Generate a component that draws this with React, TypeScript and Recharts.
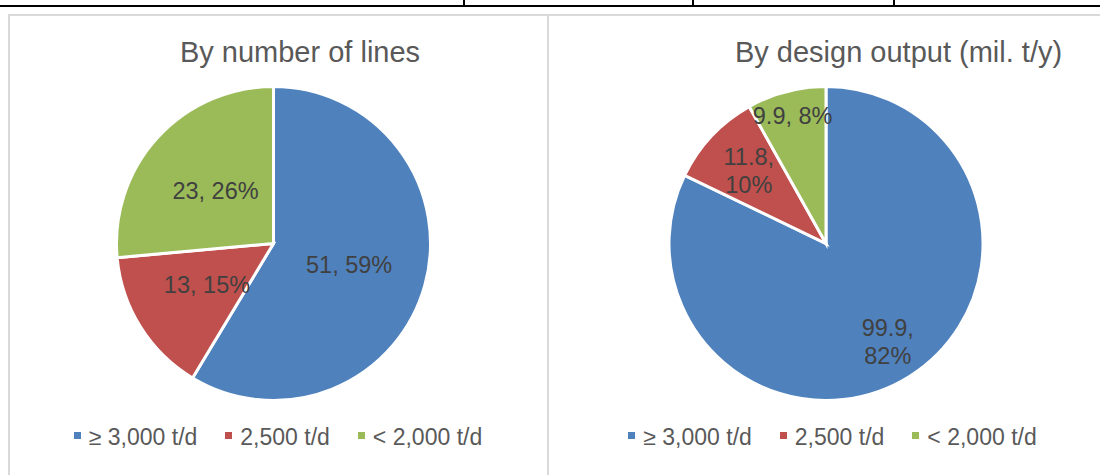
import React from 'react';
import { PieChart, Pie, Cell, Legend } from 'recharts';

// categories and values
const CATEGORIES = ['≥ 3,000 t/d', '2,500 t/d', '< 2,000 t/d'];
const LINES = [51, 13, 23];
const OUTPUT = [99.9, 11.8, 9.9];

const COLORS = ['#4F81BD', '#C0504D', '#9BBB59'];
const FONT = '"Liberation Sans", Arial, sans-serif';

// label placement (fraction of radius) and wrapping, per slice
const LINES_LABEL_R = [0.5, 0.5, 0.5];
const OUTPUT_LABEL_R = [0.74, 0.675, 0.84];
const LINES_WRAP = [false, false, false];
const OUTPUT_WRAP = [true, true, false];

const RAD = Math.PI / 180;

const makeLabel = (radii: number[], wrap: boolean[]) => (props: any) => {
  const { cx, cy, midAngle, outerRadius, index, value, percent } = props;
  const r = outerRadius * radii[index];
  const x = cx + r * Math.cos(-midAngle * RAD);
  const y = cy + r * Math.sin(-midAngle * RAD);
  const pct = `${Math.round(percent * 100)}%`;
  const fs = 23.5;
  const base = fs * 0.35;
  if (wrap[index]) {
    return (
      <text x={x} textAnchor="middle" fill="#404040" fontSize={fs} fontFamily={FONT}>
        <tspan x={x} y={y - 14 + base}>{`${value},`}</tspan>
        <tspan x={x} y={y + 14 + base}>{pct}</tspan>
      </text>
    );
  }
  return (
    <text x={x} y={y + base} textAnchor="middle" fill="#404040" fontSize={fs} fontFamily={FONT}>
      {`${value}, ${pct}`}
    </text>
  );
};

const renderLegend = () => (
  <div style={{ display: 'flex', justifyContent: 'center', alignItems: 'center', fontFamily: FONT, fontSize: 23, lineHeight: '23px', color: '#595959' }}>
    {CATEGORIES.map((c, i) => (
      <div key={c} style={{ display: 'flex', alignItems: 'center', marginRight: i < CATEGORIES.length - 1 ? 28 : 0 }}>
        <span style={{ width: 7, height: 7, background: COLORS[i], display: 'inline-block', marginRight: 8, position: 'relative', top: -2 }} />
        <span>{c}</span>
      </div>
    ))}
  </div>
);

interface PieBoxProps {
  values: number[];
  width: number;
  cx: number;
  radii: number[];
  wrap: boolean[];
}

function PieBox({ values, width, cx, radii, wrap }: PieBoxProps) {
  const data = CATEGORIES.map((name, i) => ({ name, value: values[i] }));
  return (
    <PieChart width={width} height={461} margin={{ top: 0, right: 0, bottom: 0, left: 0 }}>
      <Pie
        data={data}
        dataKey="value"
        cx={cx}
        cy={229.5}
        outerRadius={157}
        startAngle={90}
        endAngle={-270}
        stroke="#FFFFFF"
        strokeWidth={3}
        labelLine={false}
        label={makeLabel(radii, wrap)}
        isAnimationActive={false}
      >
        {data.map((d, i) => (
          <Cell key={d.name} fill={COLORS[i]} />
        ))}
      </Pie>
      <Legend content={renderLegend} wrapperStyle={{ position: 'absolute', left: 0, top: 412, width, bottom: 'auto' }} />
    </PieChart>
  );
}

const titleStyle = (center: number): React.CSSProperties => ({
  position: 'absolute',
  left: center - 250,
  width: 500,
  top: 37.5,
  textAlign: 'center',
  fontFamily: FONT,
  fontSize: 29,
  lineHeight: '29px',
  color: '#595959',
  whiteSpace: 'nowrap',
});

export default function App() {
  return (
    <div style={{ position: 'fixed', left: 0, top: 0, width: 1100, height: 475, overflow: 'hidden', background: '#FFFFFF' }}>
      {/* remnant of the table row above */}
      <div style={{ position: 'absolute', left: 0, top: 5, width: 1100, height: 2, background: '#000000' }} />
      {[463, 692, 893].map((x) => (
        <div key={x} style={{ position: 'absolute', left: x, top: 0, width: 2, height: 6, background: '#000000' }} />
      ))}

      {/* chart frames */}
      <div style={{ position: 'absolute', left: 8, top: 14, width: 1200, height: 600, borderLeft: '2px solid #D9D9D9', borderTop: '2px solid #D9D9D9' }} />
      <div style={{ position: 'absolute', left: 547, top: 14, width: 2, height: 461, background: '#D9D9D9' }} />

      <div style={titleStyle(300)}>By number of lines</div>
      <div style={titleStyle(898.5)}>By design output (mil. t/y)</div>

      <div style={{ position: 'absolute', left: 8, top: 14 }}>
        <PieBox values={LINES} width={540} cx={265.5} radii={LINES_LABEL_R} wrap={LINES_WRAP} />
      </div>
      <div style={{ position: 'absolute', left: 548, top: 14 }}>
        <PieBox values={OUTPUT} width={569} cx={278} radii={OUTPUT_LABEL_R} wrap={OUTPUT_WRAP} />
      </div>
    </div>
  );
}
